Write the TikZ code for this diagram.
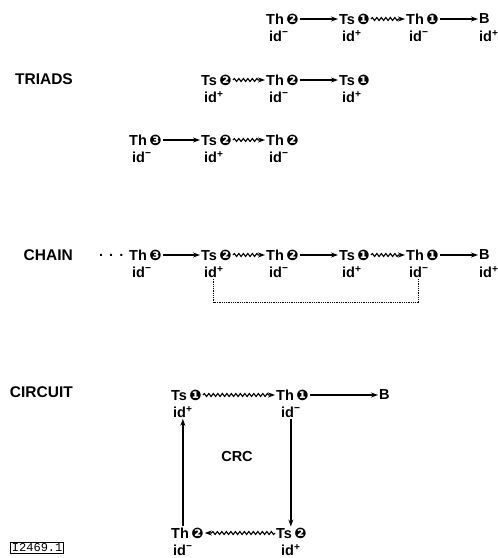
\documentclass[tikz,border=0pt]{standalone}
\usepackage{fontspec}
\setmainfont{Liberation Sans}
\setmonofont{Liberation Mono}
\newfontfamily\dingfont{DejaVu Sans}
\usetikzlibrary{decorations.pathmorphing,arrows.meta}
\newcommand{\cnum}[1]{\,{\dingfont\fontsize{14.5}{16}\selectfont #1}}
\newcommand{\idp}{id\textsuperscript{+}}
\newcommand{\idm}{id\textsuperscript{−}}
\begin{document}
\begin{tikzpicture}[x=1pt,y=-1pt,>={Stealth[length=7pt,width=5pt]},
  every node/.style={font=\fontsize{14.5}{17}\bfseries\selectfont,inner sep=1pt},
  sp/.style={anchor=west},
  idl/.style={anchor=west},
  lbl/.style={anchor=east,font=\fontsize{15.5}{18}\bfseries\selectfont},
  str/.style={->,line width=1.6pt},
  wave/.style={->,line width=1.1pt,decorate,
    decoration={snake,amplitude=1.5pt,segment length=4.5pt,post length=6pt}}]
  \useasboundingbox (0,0) rectangle (498,558);
  \node[lbl] (triads) at (74,79) {TRIADS};
  \node[lbl] (chain) at (74,255) {CHAIN};
  \node[lbl] (circuit) at (74,392) {CIRCUIT};
  \node[sp] (a1) at (265,19) {Th\cnum{❷}};
  \node[sp] (a2) at (338,19) {Ts\cnum{❶}};
  \node[sp] (a3) at (405,19) {Th\cnum{❶}};
  \node[sp] (a4) at (478,19) {B};
  \node[idl] (a1i) at (268,36) {\idm};
  \node[idl] (a2i) at (341,36) {\idp};
  \node[idl] (a3i) at (408,36) {\idm};
  \node[idl] (a4i) at (478,36) {\idp};
  \draw[str] (a1) -- (a2);
  \draw[wave] (a2) -- (a3);
  \draw[str] (a3) -- (a4);
  \node[sp] (b1) at (200,80) {Ts\cnum{❷}};
  \node[sp] (b2) at (265,80) {Th\cnum{❷}};
  \node[sp] (b3) at (338,80) {Ts\cnum{❶}};
  \node[idl] (b1i) at (203,97) {\idp};
  \node[idl] (b2i) at (268,97) {\idm};
  \node[idl] (b3i) at (341,97) {\idp};
  \draw[wave] (b1) -- (b2);
  \draw[str] (b2) -- (b3);
  \node[sp] (c1) at (128,140) {Th\cnum{❸}};
  \node[sp] (c2) at (200,140) {Ts\cnum{❷}};
  \node[sp] (c3) at (265,140) {Th\cnum{❷}};
  \node[idl] (c1i) at (131,157) {\idm};
  \node[idl] (c2i) at (203,157) {\idp};
  \node[idl] (c3i) at (268,157) {\idm};
  \draw[str] (c1) -- (c2);
  \draw[wave] (c2) -- (c3);
  \node[sp] (dots) at (98,255) {.\hspace{6pt}.\hspace{6pt}.};
  \node[sp] (d1) at (128,255) {Th\cnum{❸}};
  \node[sp] (d2) at (200,255) {Ts\cnum{❷}};
  \node[sp] (d3) at (265,255) {Th\cnum{❷}};
  \node[sp] (d4) at (338,255) {Ts\cnum{❶}};
  \node[sp] (d5) at (405,255) {Th\cnum{❶}};
  \node[sp] (d6) at (478,255) {B};
  \node[idl] (d1i) at (131,272) {\idm};
  \node[idl] (d2i) at (203,272) {\idp};
  \node[idl] (d3i) at (268,272) {\idm};
  \node[idl] (d4i) at (341,272) {\idp};
  \node[idl] (d5i) at (408,272) {\idm};
  \node[idl] (d6i) at (478,272) {\idp};
  \draw[str] (d1) -- (d2);
  \draw[wave] (d2) -- (d3);
  \draw[str] (d3) -- (d4);
  \draw[wave] (d4) -- (d5);
  \draw[str] (d5) -- (d6);
  \draw[densely dotted,line width=0.8pt] (d2i.south) -- ++(0,24) -| (d5i.south);
  \node[sp] (e1) at (170,395) {Ts\cnum{❶}};
  \node[sp] (e2) at (275,395) {Th\cnum{❶}};
  \node[sp] (e3) at (378,395) {B};
  \node[sp] (e4) at (275,533) {Ts\cnum{❷}};
  \node[sp] (e5) at (170,533) {Th\cnum{❷}};
  \node[idl] (e1i) at (172,412) {\idp};
  \node[idl] (e2i) at (280,412) {\idm};
  \node[idl] (e4i) at (280,550) {\idp};
  \node[idl] (e5i) at (172,550) {\idm};
  \draw[wave] (e1) -- (e2);
  \draw[str] (e2) -- (e3);
  \draw[str] (e2i.south) -- (e4.north -| e2i.south);
  \draw[wave] (e4) -- (e5);
  \draw[str] (e5.north -| e1i.south) -- (e1i.south);
  \node (crc) at (237,457) {CRC};
  \node[draw,anchor=west,line width=1pt,inner sep=1.5pt,
    font=\ttfamily\fontsize{12}{14}\selectfont] (ref) at (10,548) {I2469.1};
\end{tikzpicture}
\end{document}
